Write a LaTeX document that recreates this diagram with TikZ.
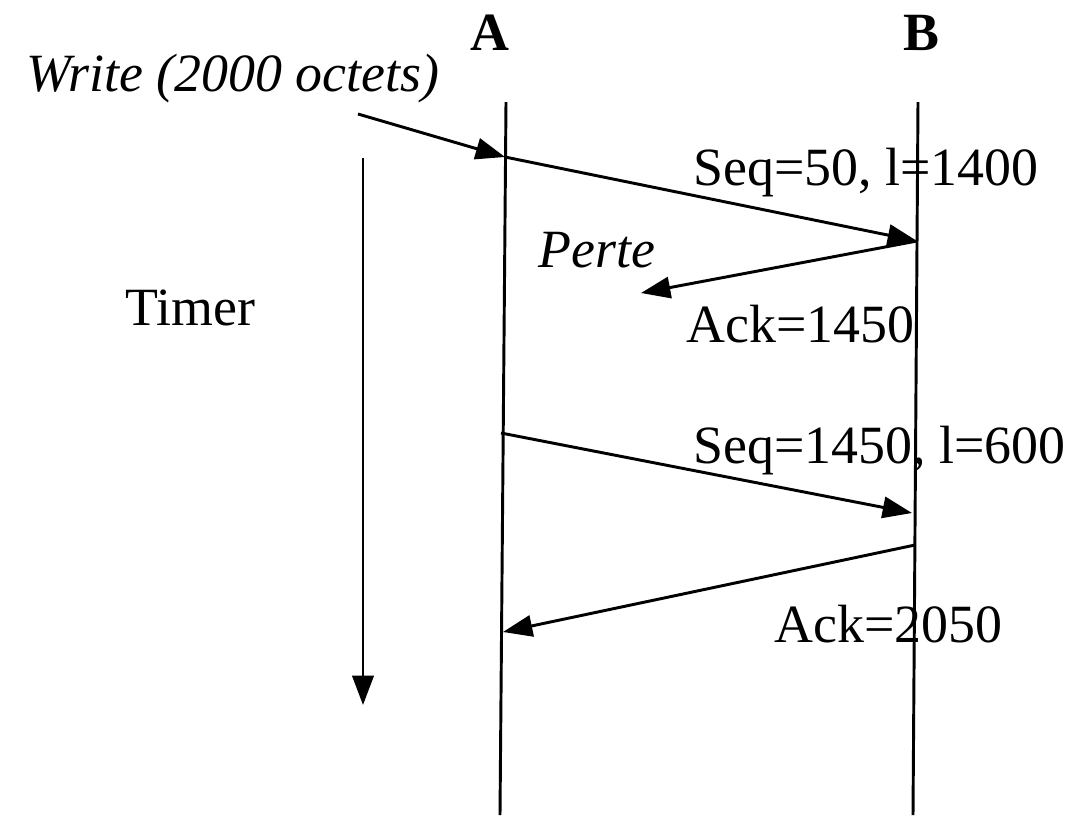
\documentclass[tikz,border=0pt]{standalone}
\usepackage{fontspec}
\setmainfont{Liberation Serif}
\usetikzlibrary{arrows.meta}
\begin{document}
\begin{tikzpicture}[x=0.75pt,y=-0.75pt,
  lbl/.style={font=\fontsize{40.4}{48}\selectfont, inner sep=0pt, anchor=base west},
  head/.style={font=\fontsize{40.4}{48}\selectfont\bfseries, inner sep=0pt, anchor=base},
  life/.style={line width=2.2pt},
  msg/.style={line width=2.2pt, -{Triangle[length=22pt,width=16pt]}}]
\useasboundingbox (0,0) rectangle (1075,815);
% headers
\node[head] (A) at (490,50) {A};
\node[head] (B) at (921,50) {B};
% lifelines
\coordinate (At) at (506,102);
\coordinate (Ab) at (500,815);
\coordinate (Bt) at (918,102);
\coordinate (Bb) at (913,815);
\draw[life] (At) -- (Ab);
\draw[life] (Bt) -- (Bb);
% labels
\node[lbl, font=\fontsize{40.4}{48}\selectfont\itshape] (write) at (26,91) {Write (2000 octets)};
\node[lbl] (timer) at (125,325) {Timer};
\node[lbl, font=\fontsize{40.4}{48}\selectfont\itshape] (perte) at (538,267) {Perte};
\node[lbl] (seq1) at (693,185) {Seq=50, l=1400};
\node[lbl] (ack1) at (686,342) {Ack=1450};
\node[lbl] (seq2) at (693,463) {Seq=1450, l=600};
\node[lbl] (ack2) at (774,642) {Ack=2050};
% message points
\coordinate (w0) at (358,114);
\coordinate (a1) at (505,157);
\coordinate (b1) at (917,241);
\coordinate (p)  at (641,293);
\coordinate (a2) at (501,433);
\coordinate (b2) at (912,513);
\coordinate (b3) at (915,545);
\coordinate (a3) at (503,632);
\coordinate (t0) at (363,158);
\coordinate (t1) at (363,705);
% arrows
\draw[msg] (w0) -- (a1);
\draw[msg] (a1) -- (b1);
\draw[msg] (b1) -- (p);
\draw[msg] (a2) -- (b2);
\draw[msg] (b3) -- (a3);
\draw[msg] (t0) -- (t1);
\end{tikzpicture}
\end{document}
